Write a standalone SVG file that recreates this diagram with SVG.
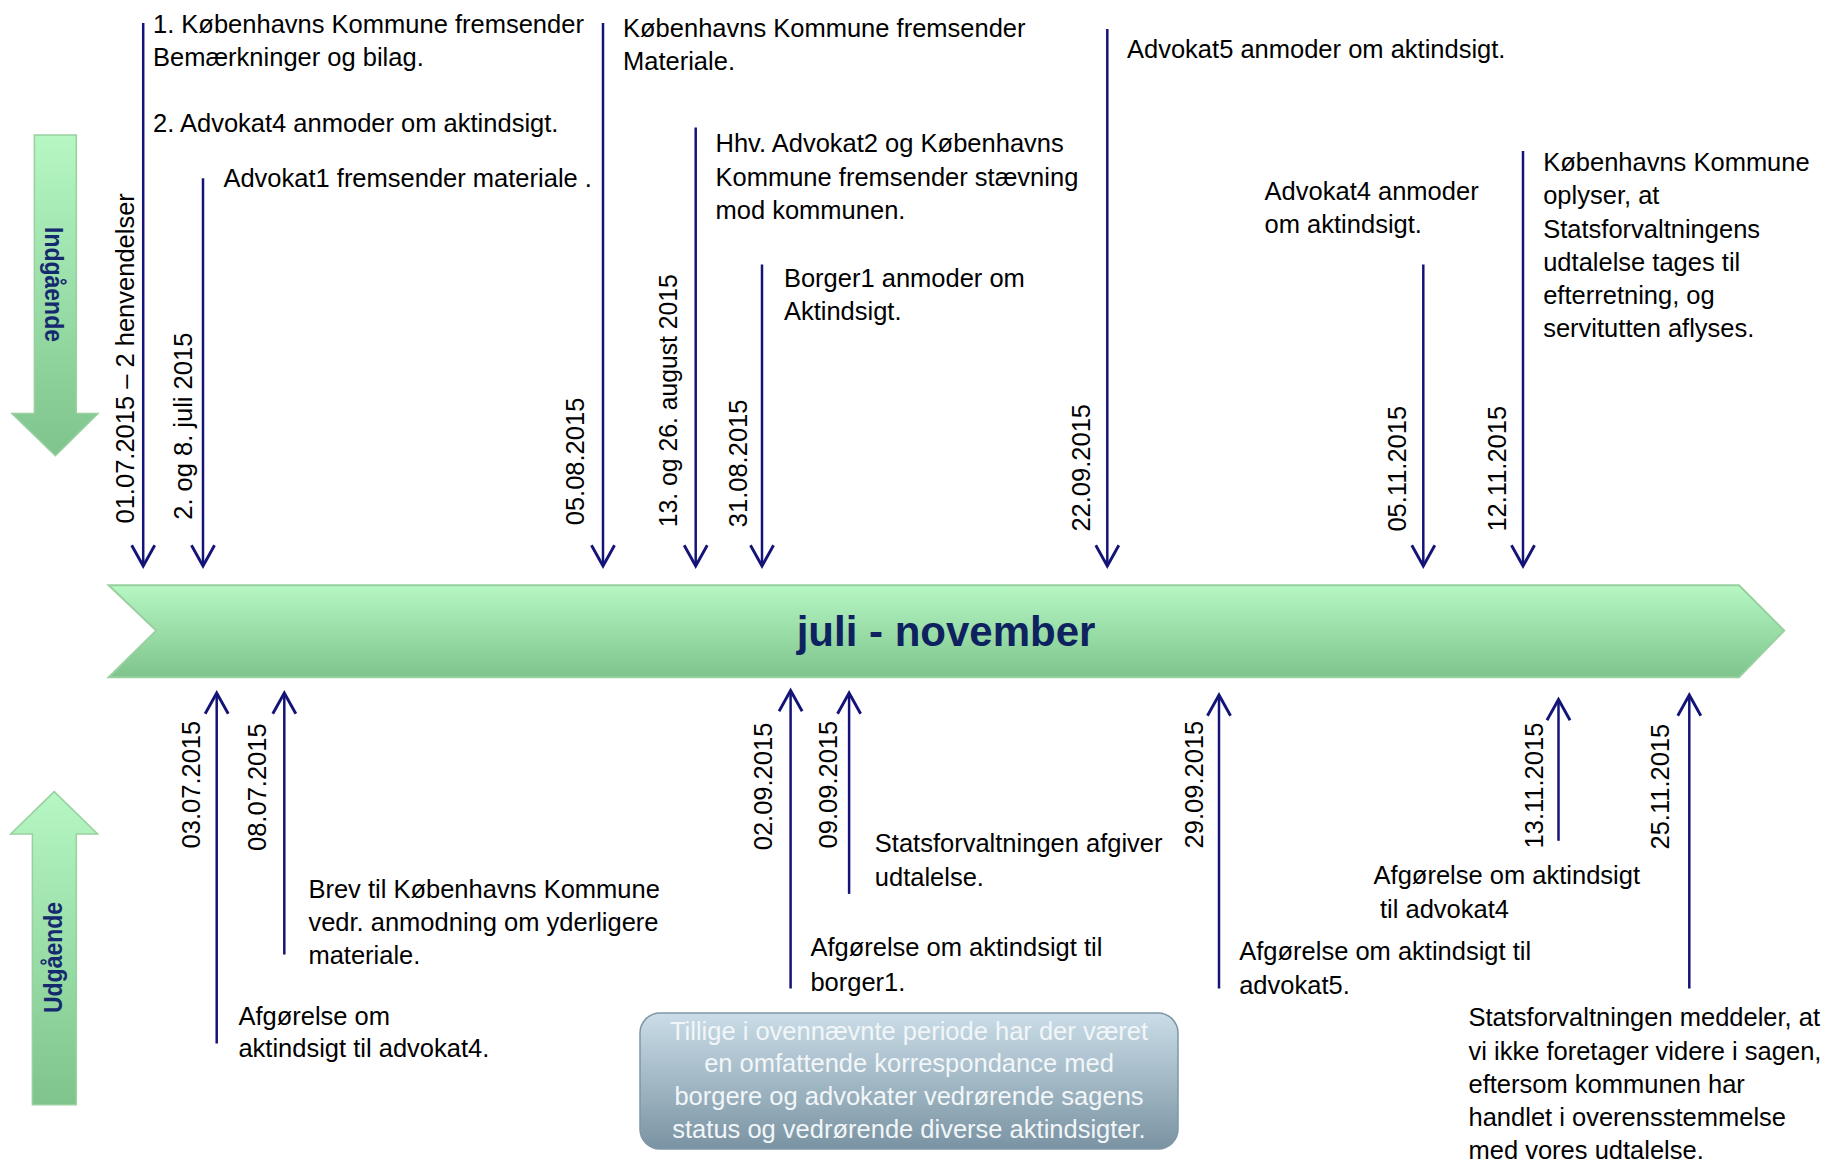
<svg xmlns="http://www.w3.org/2000/svg" width="1833" height="1164" viewBox="0 0 1833 1164">
<style>
.t{font-family:"Liberation Sans",Arial,sans-serif;font-size:25.5px;fill:#000}
.lbl{font-family:"Liberation Sans",Arial,sans-serif;font-size:25px;font-weight:bold;fill:#15296e}
.title{font-family:"Liberation Sans",Arial,sans-serif;font-size:42px;font-weight:bold;fill:#0e2260}
.box{font-family:"Liberation Sans",Arial,sans-serif;font-size:25.5px;fill:#f2f6f8}
.c{stroke:#141478;stroke-width:2.5;fill:none}
</style>
<defs>
<linearGradient id="g" x1="0" y1="0" x2="0" y2="1">
<stop offset="0" stop-color="#b6f7c4"/>
<stop offset="1" stop-color="#7ec48c"/>
</linearGradient>
<linearGradient id="gb" x1="0" y1="0" x2="0" y2="1">
<stop offset="0" stop-color="#cadde8"/>
<stop offset="1" stop-color="#7a93a2"/>
</linearGradient>
<marker id="ah" markerUnits="userSpaceOnUse" markerWidth="30" markerHeight="30" viewBox="-22 -13 26 26" refX="0" refY="0" orient="auto" overflow="visible">
<path d="M-18,-10 L0,0 L-18,10" fill="none" stroke="#141478" stroke-width="2.5"/>
</marker>
</defs>

<g id="timeline">
<path d="M108.7,585.2 L1739,585.2 L1784.2,630.6 L1739,677.2 L108.7,677.2 L156.2,630.6 Z" fill="url(#g)" stroke="#98d09f" stroke-width="2"/>
<text class="title" x="946" y="645.8" text-anchor="middle">juli - november</text>
</g>

<g id="indgaaende">
<path d="M34.4,135 L76.3,135 L76.3,413.6 L98,413.6 L55.4,455.8 L11.9,413.6 L34.4,413.6 Z" fill="url(#g)" stroke="#98d09f" stroke-width="1.5"/>
<text class="lbl" transform="translate(45,227) rotate(90)" textLength="115" lengthAdjust="spacingAndGlyphs">Indgående</text>
</g>

<g id="udgaaende">
<path d="M54.2,791.6 L97.7,834 L76.3,834 L76.3,1104.8 L32.4,1104.8 L32.4,834 L10.7,834 Z" fill="url(#g)" stroke="#98d09f" stroke-width="1.5"/>
<text class="lbl" transform="translate(62,1013) rotate(-90)" textLength="111" lengthAdjust="spacingAndGlyphs">Udgående</text>
</g>

<g id="connectors">
<line class="c" x1="143.2" y1="22.9" x2="143.2" y2="566" marker-end="url(#ah)"/>
<line class="c" x1="203" y1="178.3" x2="203" y2="566" marker-end="url(#ah)"/>
<line class="c" x1="603" y1="22.9" x2="603" y2="566" marker-end="url(#ah)"/>
<line class="c" x1="695.7" y1="127.6" x2="695.7" y2="566" marker-end="url(#ah)"/>
<line class="c" x1="762" y1="264.5" x2="762" y2="566" marker-end="url(#ah)"/>
<line class="c" x1="1107.3" y1="28.9" x2="1107.3" y2="566" marker-end="url(#ah)"/>
<line class="c" x1="1423.3" y1="264.5" x2="1423.3" y2="566" marker-end="url(#ah)"/>
<line class="c" x1="1523" y1="151" x2="1523" y2="566" marker-end="url(#ah)"/>

<line class="c" x1="216.7" y1="1043.5" x2="216.7" y2="693" marker-end="url(#ah)"/>
<line class="c" x1="284.3" y1="954.5" x2="284.3" y2="693" marker-end="url(#ah)"/>
<line class="c" x1="790.6" y1="988.6" x2="790.6" y2="690.5" marker-end="url(#ah)"/>
<line class="c" x1="849.1" y1="893.9" x2="849.1" y2="693" marker-end="url(#ah)"/>
<line class="c" x1="1219" y1="988.6" x2="1219" y2="695" marker-end="url(#ah)"/>
<line class="c" x1="1558.5" y1="840.8" x2="1558.5" y2="699.5" marker-end="url(#ah)"/>
<line class="c" x1="1689.3" y1="988.6" x2="1689.3" y2="695" marker-end="url(#ah)"/>
</g>

<g id="event-0107">
<text class="t" transform="translate(133.6,523.5) rotate(-90)">01.07.2015 – 2 henvendelser</text>
<text class="t" x="153" y="32.6">1. Københavns Kommune fremsender</text>
<text class="t" x="153" y="65.9">Bemærkninger og bilag.</text>
<text class="t" x="153" y="132.4">2. Advokat4 anmoder om aktindsigt.</text>
</g>
<g id="event-0207">
<text class="t" transform="translate(191.8,519.8) rotate(-90)">2. og 8. juli 2015</text>
<text class="t" x="223.4" y="186.8">Advokat1 fremsender materiale .</text>
</g>
<g id="event-0508">
<text class="t" transform="translate(584.4,525.3) rotate(-90)">05.08.2015</text>
<text class="t" x="623" y="37">Københavns Kommune fremsender</text>
<text class="t" x="623" y="70.3">Materiale.</text>
</g>
<g id="event-1308">
<text class="t" transform="translate(677,527.2) rotate(-90)" textLength="253" lengthAdjust="spacingAndGlyphs">13. og 26. august 2015</text>
<text class="t" x="715.5" y="152.4">Hhv. Advokat2 og Københavns</text>
<text class="t" x="715.5" y="185.5">Kommune fremsender stævning</text>
<text class="t" x="715.5" y="218.6">mod kommunen.</text>
</g>
<g id="event-3108">
<text class="t" transform="translate(747,527.2) rotate(-90)">31.08.2015</text>
<text class="t" x="783.9" y="286.7">Borger1 anmoder om</text>
<text class="t" x="783.9" y="320">Aktindsigt.</text>
</g>
<g id="event-2209">
<text class="t" transform="translate(1090.3,531.6) rotate(-90)">22.09.2015</text>
<text class="t" x="1127" y="58">Advokat5 anmoder om aktindsigt.</text>
</g>
<g id="event-0511">
<text class="t" transform="translate(1405.9,531.6) rotate(-90)">05.11.2015</text>
<text class="t" x="1264.6" y="199.8">Advokat4 anmoder</text>
<text class="t" x="1264.6" y="233">om aktindsigt.</text>
</g>
<g id="event-1211">
<text class="t" transform="translate(1505.6,531.6) rotate(-90)">12.11.2015</text>
<text class="t" x="1543.2" y="171">Københavns Kommune</text>
<text class="t" x="1543.2" y="204.2">oplyser, at</text>
<text class="t" x="1543.2" y="237.5">Statsforvaltningens</text>
<text class="t" x="1543.2" y="270.8">udtalelse tages til</text>
<text class="t" x="1543.2" y="304.1">efterretning, og</text>
<text class="t" x="1543.2" y="337.4">servitutten aflyses.</text>
</g>

<g id="event-0307">
<text class="t" transform="translate(199.7,848.4) rotate(-90)">03.07.2015</text>
<text class="t" x="238.4" y="1024.5">Afgørelse om</text>
<text class="t" x="238.4" y="1056.7">aktindsigt til advokat4.</text>
</g>
<g id="event-0807">
<text class="t" transform="translate(265.7,851) rotate(-90)">08.07.2015</text>
<text class="t" x="308.4" y="897.5">Brev til Københavns Kommune</text>
<text class="t" x="308.4" y="930.6">vedr. anmodning om yderligere</text>
<text class="t" x="308.4" y="963.7">materiale.</text>
</g>
<g id="event-0209">
<text class="t" transform="translate(772,850.3) rotate(-90)">02.09.2015</text>
<text class="t" x="810.4" y="956.4">Afgørelse om aktindsigt til</text>
<text class="t" x="810.4" y="990.5">borger1.</text>
</g>
<g id="event-0909">
<text class="t" transform="translate(837.2,848.4) rotate(-90)">09.09.2015</text>
<text class="t" x="874.8" y="852.2">Statsforvaltningen afgiver</text>
<text class="t" x="874.8" y="886.3">udtalelse.</text>
</g>
<g id="event-2909">
<text class="t" transform="translate(1203,848.4) rotate(-90)">29.09.2015</text>
<text class="t" x="1239.2" y="960.2">Afgørelse om aktindsigt til</text>
<text class="t" x="1239.2" y="993.5">advokat5.</text>
</g>
<g id="event-1311">
<text class="t" transform="translate(1543.2,848.4) rotate(-90)">13.11.2015</text>
<text class="t" x="1373.6" y="884.4">Afgørelse om aktindsigt</text>
<text class="t" x="1380" y="917.7">til advokat4</text>
</g>
<g id="event-2511">
<text class="t" transform="translate(1669.1,849.5) rotate(-90)">25.11.2015</text>
<text class="t" x="1468.5" y="1026.4">Statsforvaltningen meddeler, at</text>
<text class="t" x="1468.5" y="1059.5">vi ikke foretager videre i sagen,</text>
<text class="t" x="1468.5" y="1092.6">eftersom kommunen har</text>
<text class="t" x="1468.5" y="1125.7">handlet i overensstemmelse</text>
<text class="t" x="1468.5" y="1158.8">med vores udtalelse.</text>
</g>

<g id="note">
<rect x="640" y="1013" width="538" height="136" rx="20" ry="20" fill="url(#gb)" stroke="#7f97a5" stroke-width="1.5"/>
<text class="box" x="909" y="1039.5" text-anchor="middle">Tillige i ovennævnte periode har der været</text>
<text class="box" x="909" y="1072.3" text-anchor="middle">en omfattende korrespondance med</text>
<text class="box" x="909" y="1105.1" text-anchor="middle">borgere og advokater vedrørende sagens</text>
<text class="box" x="909" y="1137.9" text-anchor="middle">status og vedrørende diverse aktindsigter.</text>
</g>
</svg>
